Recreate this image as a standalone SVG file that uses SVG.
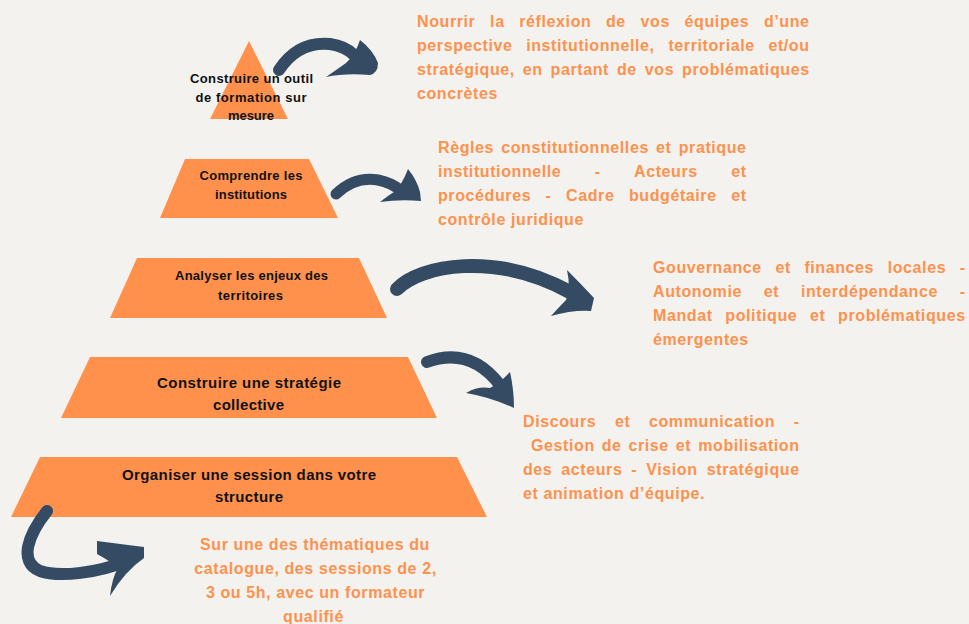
<svg xmlns="http://www.w3.org/2000/svg" width="969" height="624" viewBox="0 0 969 624">
<style>
.shape{fill:#ff914d}
text{font-variant-ligatures:none;font-feature-settings:"liga" 0}
.lbl{font-family:"Liberation Sans",Arial,sans-serif;font-weight:700;fill:#111;text-anchor:middle}
.s1{font-size:13px}
.s2{font-size:15px}
.desc{font-family:"Liberation Sans",Arial,sans-serif;font-weight:700;font-size:16px;letter-spacing:0.6px;fill:#ff914d}
.ctr{text-anchor:middle}
.shaft{fill:none;stroke:#344b63;stroke-linecap:round}
.head{fill:#344b63}
</style>
<rect width="969" height="624" fill="#f4f2ef"/>

<g id="node1">
<polygon class="shape" points="249,41 288,119 210,119"/>
<text class="lbl s1"><tspan x="251.5" y="83" textLength="123">Construire un outil</tspan><tspan x="251" y="102" textLength="111">de formation sur</tspan><tspan x="251" y="120" textLength="46">mesure</tspan></text>
</g>
<g id="node2">
<polygon class="shape" points="185,159 309,159 338,218 160,218"/>
<text class="lbl s1"><tspan x="251" y="180" textLength="103">Comprendre les</tspan><tspan x="251" y="199" textLength="72">institutions</tspan></text>
</g>
<g id="node3">
<polygon class="shape" points="137,258 359,258 387,318 110,318"/>
<text class="lbl s1"><tspan x="251.5" y="280" textLength="153">Analyser les enjeux des</tspan><tspan x="250.5" y="300" textLength="65">territoires</tspan></text>
</g>
<g id="node4">
<polygon class="shape" points="90,357 408,357 437,418 61,418"/>
<text class="lbl s2"><tspan x="249" y="388" textLength="184">Construire une stratégie</tspan><tspan x="248.5" y="410" textLength="71">collective</tspan></text>
</g>
<g id="node5">
<polygon class="shape" points="40,457 457,457 487,517 11,517"/>
<text class="lbl s2"><tspan x="249" y="480" textLength="254">Organiser une session dans votre</tspan><tspan x="249" y="502" textLength="68">structure</tspan></text>
</g>

<g id="desc1">
<text class="desc" y="27"><tspan x="417">Nourrir</tspan> <tspan x="490.1">la</tspan> <tspan x="519.3">réflexion</tspan> <tspan x="606">de</tspan> <tspan x="640.6">vos</tspan> <tspan x="684.6">équipes</tspan> <tspan x="763.9">d’une</tspan></text>
<text class="desc" y="51"><tspan x="417">perspective</tspan> <tspan x="526.2">institutionnelle,</tspan> <tspan x="668.4">territoriale</tspan> <tspan x="768.4">et/ou</tspan></text>
<text class="desc" y="75"><tspan x="417">stratégique,</tspan> <tspan x="522.8">en</tspan> <tspan x="550.6">partant</tspan> <tspan x="617">de</tspan> <tspan x="644.8">vos</tspan> <tspan x="682.1">problématiques</tspan></text>
<text class="desc" y="99" x="417">concrètes</text>
</g>
<g id="desc2">
<text class="desc" y="153"><tspan x="438">Règles</tspan> <tspan x="501.2">constitutionnelles</tspan> <tspan x="656.1">et</tspan> <tspan x="678.7">pratique</tspan></text>
<text class="desc" y="177"><tspan x="438">institutionnelle</tspan> <tspan x="594.8">-</tspan> <tspan x="634">Acteurs</tspan> <tspan x="731.2">et</tspan></text>
<text class="desc" y="201"><tspan x="438">procédures</tspan> <tspan x="545.6">-</tspan> <tspan x="566.1">Cadre</tspan> <tspan x="628.9">budgétaire</tspan> <tspan x="731.2">et</tspan></text>
<text class="desc" y="225" x="438">contrôle juridique</text>
</g>
<g id="desc3">
<text class="desc" y="273"><tspan x="653">Gouvernance</tspan> <tspan x="775.4">et</tspan> <tspan x="804.4">finances</tspan> <tspan x="887.7">locales</tspan> <tspan x="959.7">-</tspan></text>
<text class="desc" y="297"><tspan x="653">Autonomie</tspan> <tspan x="763.7">et</tspan> <tspan x="800.9">interdépendance</tspan> <tspan x="959.7">-</tspan></text>
<text class="desc" y="321"><tspan x="653">Mandat</tspan> <tspan x="725.3">politique</tspan> <tspan x="810">et</tspan> <tspan x="838.1">problématiques</tspan></text>
<text class="desc" y="345" x="653">émergentes</text>
</g>
<g id="desc4">
<text class="desc" y="427"><tspan x="523">Discours</tspan> <tspan x="614.9">et</tspan> <tspan x="649">communication</tspan> <tspan x="793.7">-</tspan></text>
<text class="desc" y="451"><tspan x="531">Gestion</tspan> <tspan x="601.7">de</tspan> <tspan x="628.5">crise</tspan> <tspan x="675.8">et</tspan> <tspan x="698.2">mobilisation</tspan></text>
<text class="desc" y="475"><tspan x="523">des</tspan> <tspan x="561.3">acteurs</tspan> <tspan x="631.3">-</tspan> <tspan x="646.2">Vision</tspan> <tspan x="706.8">stratégique</tspan></text>
<text class="desc" y="499" x="523">et animation d’équipe.</text>
</g>
<g id="desc5">
<text class="desc ctr"><tspan x="315" y="550">Sur une des thématiques du</tspan><tspan x="315.5" y="574">catalogue, des sessions de 2,</tspan><tspan x="315.5" y="598">3 ou 5h, avec un formateur</tspan><tspan x="313.5" y="622">qualifié</tspan></text>
</g>

<g id="connectors">
<path class="shaft" stroke-width="12" d="M279,70 Q298,41 330,44 Q345,46 354,55"/>
<path class="head" d="M360,40 Q373,50 378,63 Q378,73 370,75 Q345,73 326,77 Q339,68 346,63 Q355,55 360,40 Z"/>

<path class="shaft" stroke-width="11" d="M336,194 Q355,176 378,180 Q392,183 400,190"/>
<path class="head" d="M408,169 Q417,180 420,192 L421,201 Q400,199 380,202 Q389,195 394,192 Q402,185 408,169 Z"/>

<path class="shaft" stroke-width="14" d="M397,289 C420,265 495,251 570,292"/>
<path class="head" d="M567,270 Q581,284 594,298 L591,311 Q572,310 551,316 Q561,305 566,300 Q571,288 567,270 Z"/>

<path class="shaft" stroke-width="12" d="M427,362 Q470,346 500,385"/>
<path class="head" d="M510,372 Q514,390 514,408 Q490,397 466,393 Q478,386 490,388 Q500,383 510,372 Z"/>

<path class="shaft" stroke-width="12" d="M47,511 C28,535 18,562 40,571 C60,578 100,572 124,562"/>
<path class="head" d="M97,541 Q120,544 144,547 L144,558 Q125,571 110,596 Q112,578 118,568 Q110,561 97,554 Z"/>
</g>
</svg>
